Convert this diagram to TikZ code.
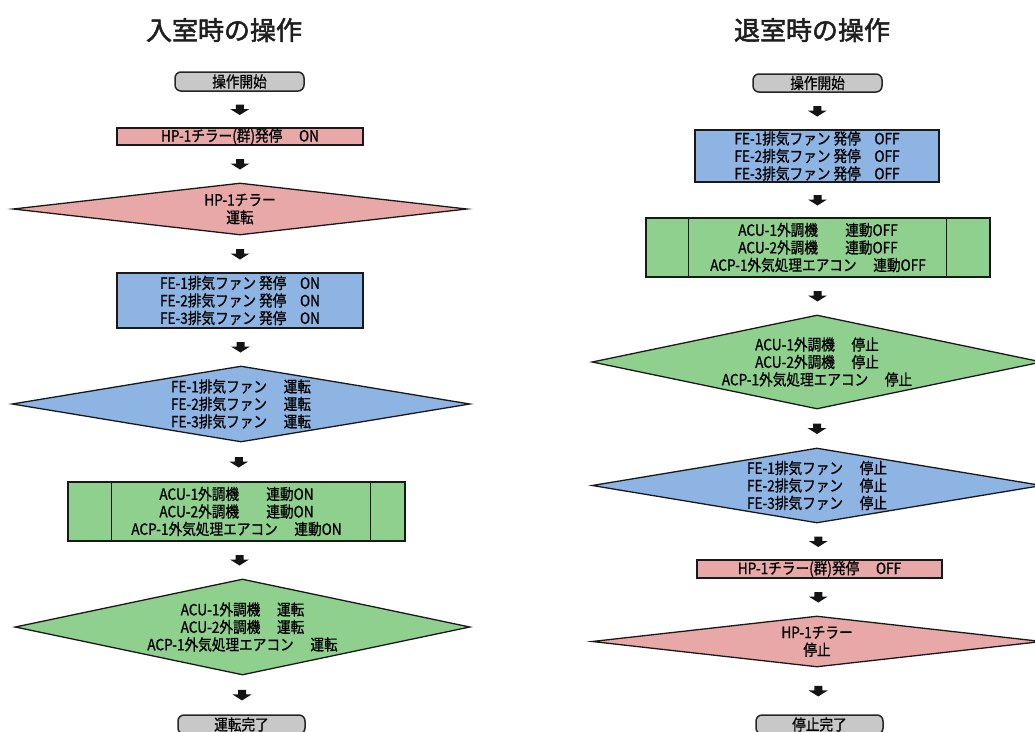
\documentclass[tikz,border=0pt]{standalone}
\usepackage{fontspec}
\newfontfamily\jp[FakeStretch=0.88,FakeBold=0.8]{Noto Sans CJK JP}
\newfontfamily\jptitle[FakeBold=2]{Noto Sans CJK JP}
\usetikzlibrary{shapes.geometric,calc}
\definecolor{pinkf}{HTML}{E8A8A8}
\definecolor{bluef}{HTML}{8DB4E2}
\definecolor{greenf}{HTML}{8FD08F}
\definecolor{grayf}{HTML}{C8C8C8}
\newcommand\flowarrow[2]{\begin{scope}[shift={($(#1.south)!0.5!(#2.north)$)}]
  \fill[black!92] (-4,-5) -- (4,-5) -- (4,-0.5) -- (9.5,-0.5) -- (0,5.5) -- (-9.5,-0.5) -- (-4,-0.5) -- cycle;
  \end{scope}}
\begin{document}
\begin{tikzpicture}[x=1pt,y=-1pt,
  every node/.style={font=\jp\fontsize{15.5}{17.5}\selectfont, align=center, inner sep=0pt},
  box/.style={draw=black!90, line width=1.3pt, rectangle},
  term/.style={draw=black!85, line width=1.5pt, fill=grayf, rounded corners=6pt, minimum width=129pt, minimum height=19pt},
  dia/.style={diamond, draw=black!90, line width=1.3pt},
  ttl/.style={font=\jptitle\fontsize{26}{26}\selectfont, text=black!88}
]
\useasboundingbox (0,0) rectangle (1035,731);
\clip (0,0) rectangle (1035,731);
\fill[white] (0,0) rectangle (1035,731);

% titles
\node[ttl] (t1) at (224,30) {入室時の操作};
\node[ttl] (t2) at (812,30) {退室時の操作};

% ---------- left column ----------
\node[term] (ls) at (239.5,81.5) {操作開始};
\node[box, fill=pinkf, minimum width=246pt, minimum height=17pt] (lhp) at (240,136.5) {HP-1チラー(群)発停　 ON};
\node[dia, fill=pinkf, minimum width=454pt, minimum height=52pt] (ld1) at (240,209) {};
\node (ld1t) at (ld1.center) {HP-1チラー\\運転};
\node[box, fill=bluef, minimum width=246pt, minimum height=55pt] (lfe) at (240,300.5)
  {FE-1排気ファン 発停　ON\\FE-2排気ファン 発停　ON\\FE-3排気ファン 発停　ON};
\node[dia, fill=bluef, minimum width=458pt, minimum height=76pt] (ld2) at (241,404) {};
\node (ld2t) at (ld2.center) {FE-1排気ファン　 運転\\FE-2排気ファン　 運転\\FE-3排気ファン　 運転};
\node[box, fill=greenf, minimum width=337pt, minimum height=59pt] (lacu) at (236.5,511.5)
  {ACU-1外調機　　連動ON\\ACU-2外調機　　連動ON\\ACP-1外気処理エアコン　 連動ON};
\draw[line width=1.3pt, black!90] ($(lacu.north west)+(44,0)$) -- ($(lacu.south west)+(44,0)$);
\draw[line width=1.3pt, black!90] ($(lacu.north east)+(-35,0)$) -- ($(lacu.south east)+(-35,0)$);
\node[dia, fill=greenf, minimum width=455pt, minimum height=96pt] (ld3) at (242.5,627) {};
\node (ld3t) at (ld3.center) {ACU-1外調機　 運転\\ACU-2外調機　 運転\\ACP-1外気処理エアコン　 運転};
\node[term, minimum width=127pt] (le) at (241.5,724.5) {運転完了};

\flowarrow{ls}{lhp}
\flowarrow{lhp}{ld1}
\flowarrow{ld1}{lfe}
\flowarrow{lfe}{ld2}
\flowarrow{ld2}{lacu}
\flowarrow{lacu}{ld3}
\flowarrow{ld3}{le}

% ---------- right column ----------
\node[term, minimum height=18pt] (rs) at (817.5,83) {操作開始};
\node[box, fill=bluef, minimum width=244pt, minimum height=52pt] (rfe) at (817,156)
  {FE-1排気ファン 発停　OFF\\FE-2排気ファン 発停　OFF\\FE-3排気ファン 発停　OFF};
\node[box, fill=greenf, minimum width=344pt, minimum height=59pt] (racu) at (818,247.5)
  {ACU-1外調機　　連動OFF\\ACU-2外調機　　連動OFF\\ACP-1外気処理エアコン　 連動OFF};
\draw[line width=1.3pt, black!90] ($(racu.north west)+(43,0)$) -- ($(racu.south west)+(43,0)$);
\draw[line width=1.3pt, black!90] ($(racu.north east)+(-44,0)$) -- ($(racu.south east)+(-44,0)$);
\node[dia, fill=greenf, minimum width=450pt, minimum height=94pt] (rd1) at (817,362) {};
\node (rd1t) at (rd1.center) {ACU-1外調機　 停止\\ACU-2外調機　 停止\\ACP-1外気処理エアコン　 停止};
\node[dia, fill=bluef, minimum width=450pt, minimum height=75pt] (rd2) at (817,485.5) {};
\node (rd2t) at (rd2.center) {FE-1排気ファン　 停止\\FE-2排気ファン　 停止\\FE-3排気ファン　 停止};
\node[box, fill=pinkf, minimum width=245pt, minimum height=18pt] (rhp) at (819.5,569) {HP-1チラー(群)発停　 OFF};
\node[dia, fill=pinkf, minimum width=450pt, minimum height=51pt] (rd3) at (817,641.5) {};
\node (rd3t) at (rd3.center) {HP-1チラー\\停止};
\node[term, minimum width=127pt] (re) at (819.5,724.5) {停止完了};

\flowarrow{rs}{rfe}
\flowarrow{rfe}{racu}
\flowarrow{racu}{rd1}
\flowarrow{rd1}{rd2}
\flowarrow{rd2}{rhp}
\flowarrow{rhp}{rd3}
\flowarrow{rd3}{re}
\end{tikzpicture}
\end{document}
